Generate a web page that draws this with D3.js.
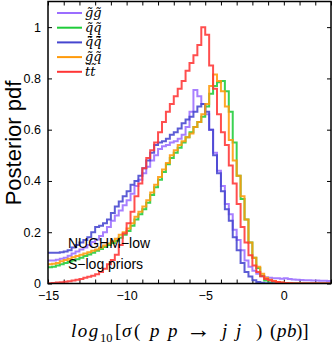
<!DOCTYPE html>
<html>
<head>
<meta charset="utf-8">
<script src="https://cdn.jsdelivr.net/npm/d3@7"></script>
<style>
  body { margin: 0; background: #fff; }
  svg { display: block; }
  .tick text { font-family: "Liberation Sans", Arial, sans-serif; font-size: 12.5px; fill: #000; }
  .tick line { stroke: #000; stroke-width: 1; }
</style>
</head>
<body>
<svg width="332" height="347"></svg>
<script>
// histogram bins: 0.25 wide from -15 to 3
var binLo = -15, binW = 0.25;

var seriesNames = ["g\u0303g\u0303", "q\u0303q\u0303", "q\u0303\u0304q\u0303\u0304", "g\u0303q\u0303", "t\u0303t\u0303"];
var seriesColors = ["#9b6dff", "#1fcc3a", "#4646cf", "#ff9a0a", "#ff3535"];

var gluGlu = [0.09,0.09,0.093,0.097,0.10,0.108,0.117,0.125,0.133,0.14,0.15,0.162,0.172,0.185,0.20,0.22,0.245,0.265,0.285,0.305,
  0.325,0.35,0.38,0.405,0.43,0.455,0.48,0.50,0.525,0.535,0.54,0.55,0.555,0.565,0.58,0.61,0.67,0.755,0.73,0.70,
  0.66,0.60,0.51,0.44,0.38,0.31,0.27,0.21,0.17,0.13,0.09,0.065,0.05,0.038,0.028,0.024,0.022,0.02,0.02,0.019,
  0.02,0.018,0.016,0.015,0.014,0.013,0.013,0.012,0.012,0.011,0.011,0.01];
var sqSq = [0.063,0.065,0.07,0.075,0.08,0.085,0.09,0.095,0.10,0.107,0.113,0.12,0.128,0.135,0.142,0.15,0.158,0.167,0.178,0.19,
  0.205,0.225,0.25,0.27,0.29,0.315,0.345,0.375,0.405,0.435,0.465,0.49,0.51,0.53,0.55,0.57,0.59,0.61,0.63,0.65,
  0.69,0.74,0.77,0.785,0.79,0.75,0.67,0.55,0.42,0.33,0.25,0.16,0.10,0.06,0.03,0.012,0.004,0.001,0,0,
  0,0,0,0,0,0,0,0,0,0,0,0];
var sqAntiSq = [0.12,0.12,0.12,0.122,0.125,0.13,0.14,0.15,0.16,0.17,0.18,0.20,0.22,0.225,0.235,0.25,0.275,0.30,0.32,0.34,
  0.36,0.385,0.40,0.42,0.45,0.48,0.51,0.54,0.55,0.555,0.565,0.58,0.59,0.605,0.625,0.64,0.65,0.67,0.69,0.70,
  0.67,0.60,0.50,0.43,0.36,0.29,0.245,0.18,0.13,0.08,0.045,0.027,0.013,0.006,0.003,0.001,0,0,0,0,
  0,0,0,0,0,0,0,0,0,0,0,0];
var gluSq = [0.075,0.077,0.08,0.087,0.092,0.097,0.102,0.107,0.112,0.117,0.122,0.128,0.133,0.14,0.148,0.156,0.165,0.175,0.19,0.20,
  0.215,0.235,0.26,0.28,0.30,0.325,0.355,0.385,0.415,0.445,0.47,0.50,0.52,0.54,0.555,0.57,0.585,0.61,0.63,0.66,
  0.70,0.77,0.815,0.79,0.75,0.69,0.56,0.48,0.42,0.34,0.25,0.16,0.10,0.065,0.038,0.022,0.015,0.01,0.006,0.004,
  0.002,0.001,0,0,0,0,0,0,0,0,0,0];
var stopSt = [0.001,0.002,0.004,0.005,0.007,0.009,0.012,0.015,0.018,0.022,0.026,0.03,0.036,0.045,0.058,0.075,0.092,0.112,0.15,0.195,
  0.235,0.28,0.34,0.39,0.45,0.49,0.52,0.55,0.59,0.63,0.67,0.70,0.73,0.76,0.79,0.83,0.86,0.89,0.93,1.0,
  0.97,0.85,0.76,0.66,0.59,0.54,0.46,0.39,0.31,0.22,0.16,0.11,0.07,0.045,0.028,0.018,0.013,0.009,0.006,0.004,
  0.002,0.001,0,0,0,0,0,0,0,0,0,0];

var allSeries = [gluGlu, sqSq, sqAntiSq, gluSq, stopSt];

var xTicks = d3.range(-15, 4, 1);
var xLabelled = [-15, -10, -5, 0];
var yTicks = [0, 0.2, 0.4, 0.6, 0.8, 1];

var svg = d3.select("svg");
var margin = { top: 1.5, right: 1, bottom: 63.5, left: 48 },
  width = +svg.attr("width") - margin.left - margin.right,
  height = +svg.attr("height") - margin.top - margin.bottom;

var g = svg.append("g").attr("transform", "translate(" + margin.left + "," + margin.top + ")");

var xScale = d3.scaleLinear().domain([-15, 3]).range([0, width]);
var yScale = d3.scaleLinear().domain([0, 1.1]).range([height, 0]);

// axes, ticks pointing inward on all four sides
g.append("g")
  .attr("transform", "translate(0," + height + ")")
  .call(d3.axisBottom(xScale).tickValues(xTicks).tickSizeInner(-4).tickSizeOuter(0).tickPadding(8)
    .tickFormat(function(d) { return xLabelled.indexOf(d) >= 0 ? d3.format("")(d) : ""; }))
  .call(function(a) { a.select(".domain").remove(); });

g.append("g")
  .call(d3.axisTop(xScale).tickValues(xTicks).tickSizeInner(-4).tickSizeOuter(0).tickFormat(""))
  .call(function(a) { a.select(".domain").remove(); });

g.append("g")
  .call(d3.axisLeft(yScale).tickValues(yTicks).tickSizeInner(-4).tickSizeOuter(0).tickPadding(7)
    .tickFormat(function(d) { return d3.format("")(d); }))
  .call(function(a) { a.select(".domain").remove(); });

g.append("g")
  .attr("transform", "translate(" + width + ",0)")
  .call(d3.axisRight(yScale).tickValues(yTicks).tickSizeInner(-4).tickSizeOuter(0).tickFormat(""))
  .call(function(a) { a.select(".domain").remove(); });

// step histograms
var line = d3.line()
  .x(function(d) { return xScale(d[0]); })
  .y(function(d) { return yScale(d[1]); })
  .curve(d3.curveStepAfter);

var clip = svg.append("clipPath").attr("id", "plotclip")
  .append("rect").attr("x", 0).attr("y", 0).attr("width", width).attr("height", height);

allSeries.forEach(function(vals, k) {
  var pts = vals.map(function(v, i) { return [binLo + i * binW, v]; });
  pts.push([binLo + vals.length * binW, vals[vals.length - 1]]);
  g.append("path")
    .datum(pts)
    .attr("clip-path", "url(#plotclip)")
    .attr("fill", "none")
    .attr("stroke", seriesColors[k])
    .attr("stroke-width", 2)
    .attr("stroke-opacity", 0.88)
    .attr("d", line);
});

// frame
g.append("rect")
  .attr("width", width).attr("height", height)
  .attr("fill", "none").attr("stroke", "#000").attr("stroke-width", 1.5);

// legend
var legend = g.selectAll(".legend")
  .data(seriesNames)
  .enter().append("g")
  .attr("class", "legend")
  .attr("transform", function(d, i) { return "translate(9," + (11.5 + i * 14.7) + ")"; });

legend.append("line")
  .attr("x1", 0).attr("x2", 25)
  .attr("stroke", function(d, i) { return seriesColors[i]; })
  .attr("stroke-width", 2);

legend.append("text")
  .attr("x", 28).attr("y", 4)
  .style("font-family", "'DejaVu Serif', 'Liberation Serif', serif")
  .style("font-style", "italic")
  .style("font-size", "13px")
  .text(function(d) { return d; });

// annotation
g.append("text")
  .attr("x", 20).attr("y", 246.5)
  .style("font-family", "'Liberation Sans', Arial, sans-serif")
  .style("font-size", "14px")
  .text("NUGHM\u2212low");

g.append("text")
  .attr("x", 20).attr("y", 267.5)
  .style("font-family", "'Liberation Sans', Arial, sans-serif")
  .style("font-size", "14px")
  .text("S\u2212log priors");

// y axis title
svg.append("text")
  .attr("transform", "translate(21,143) rotate(-90)")
  .attr("text-anchor", "middle")
  .style("font-family", "'Liberation Sans', Arial, sans-serif")
  .style("font-size", "22px")
  .text("Posterior pdf");

// x axis title, TeX-like spacing
var xt = svg.append("text")
  .attr("y", 337)
  .style("font-family", "'Liberation Serif', 'DejaVu Serif', serif")
  .style("font-size", "19px")
  .style("font-style", "italic");
var pieces = [
  ["log", 71, 0, "italic", 19, 1.5],
  ["10", 100, 5, "normal", 12.5, 0],
  ["[", 115, -5, "normal", 19, 0],
  ["\u03c3", 122, 0, "italic", 19, 0],
  ["(", 134, 0, "normal", 19, 0],
  ["p", 150, 0, "italic", 19, 0],
  ["p", 168, 0, "italic", 19, 0],
  ["\u2192", 186, 1, "normal", 25, 0],
  ["j", 222, -1, "italic", 19, 0],
  ["j", 236, 0, "italic", 19, 0],
  [")", 256, 0, "normal", 19, 0],
  ["(", 270, 0, "normal", 19, 0],
  ["pb", 277, 0, "italic", 19, 0.5],
  [")]", 296, 0, "normal", 19, 0]
];
pieces.forEach(function(p) {
  xt.append("tspan")
    .attr("x", p[1]).attr("dy", p[2])
    .style("font-style", p[3])
    .style("font-size", p[4] + "px")
    .style("letter-spacing", p[5] + "px")
    .text(p[0]);
});
</script>
</body>
</html>
